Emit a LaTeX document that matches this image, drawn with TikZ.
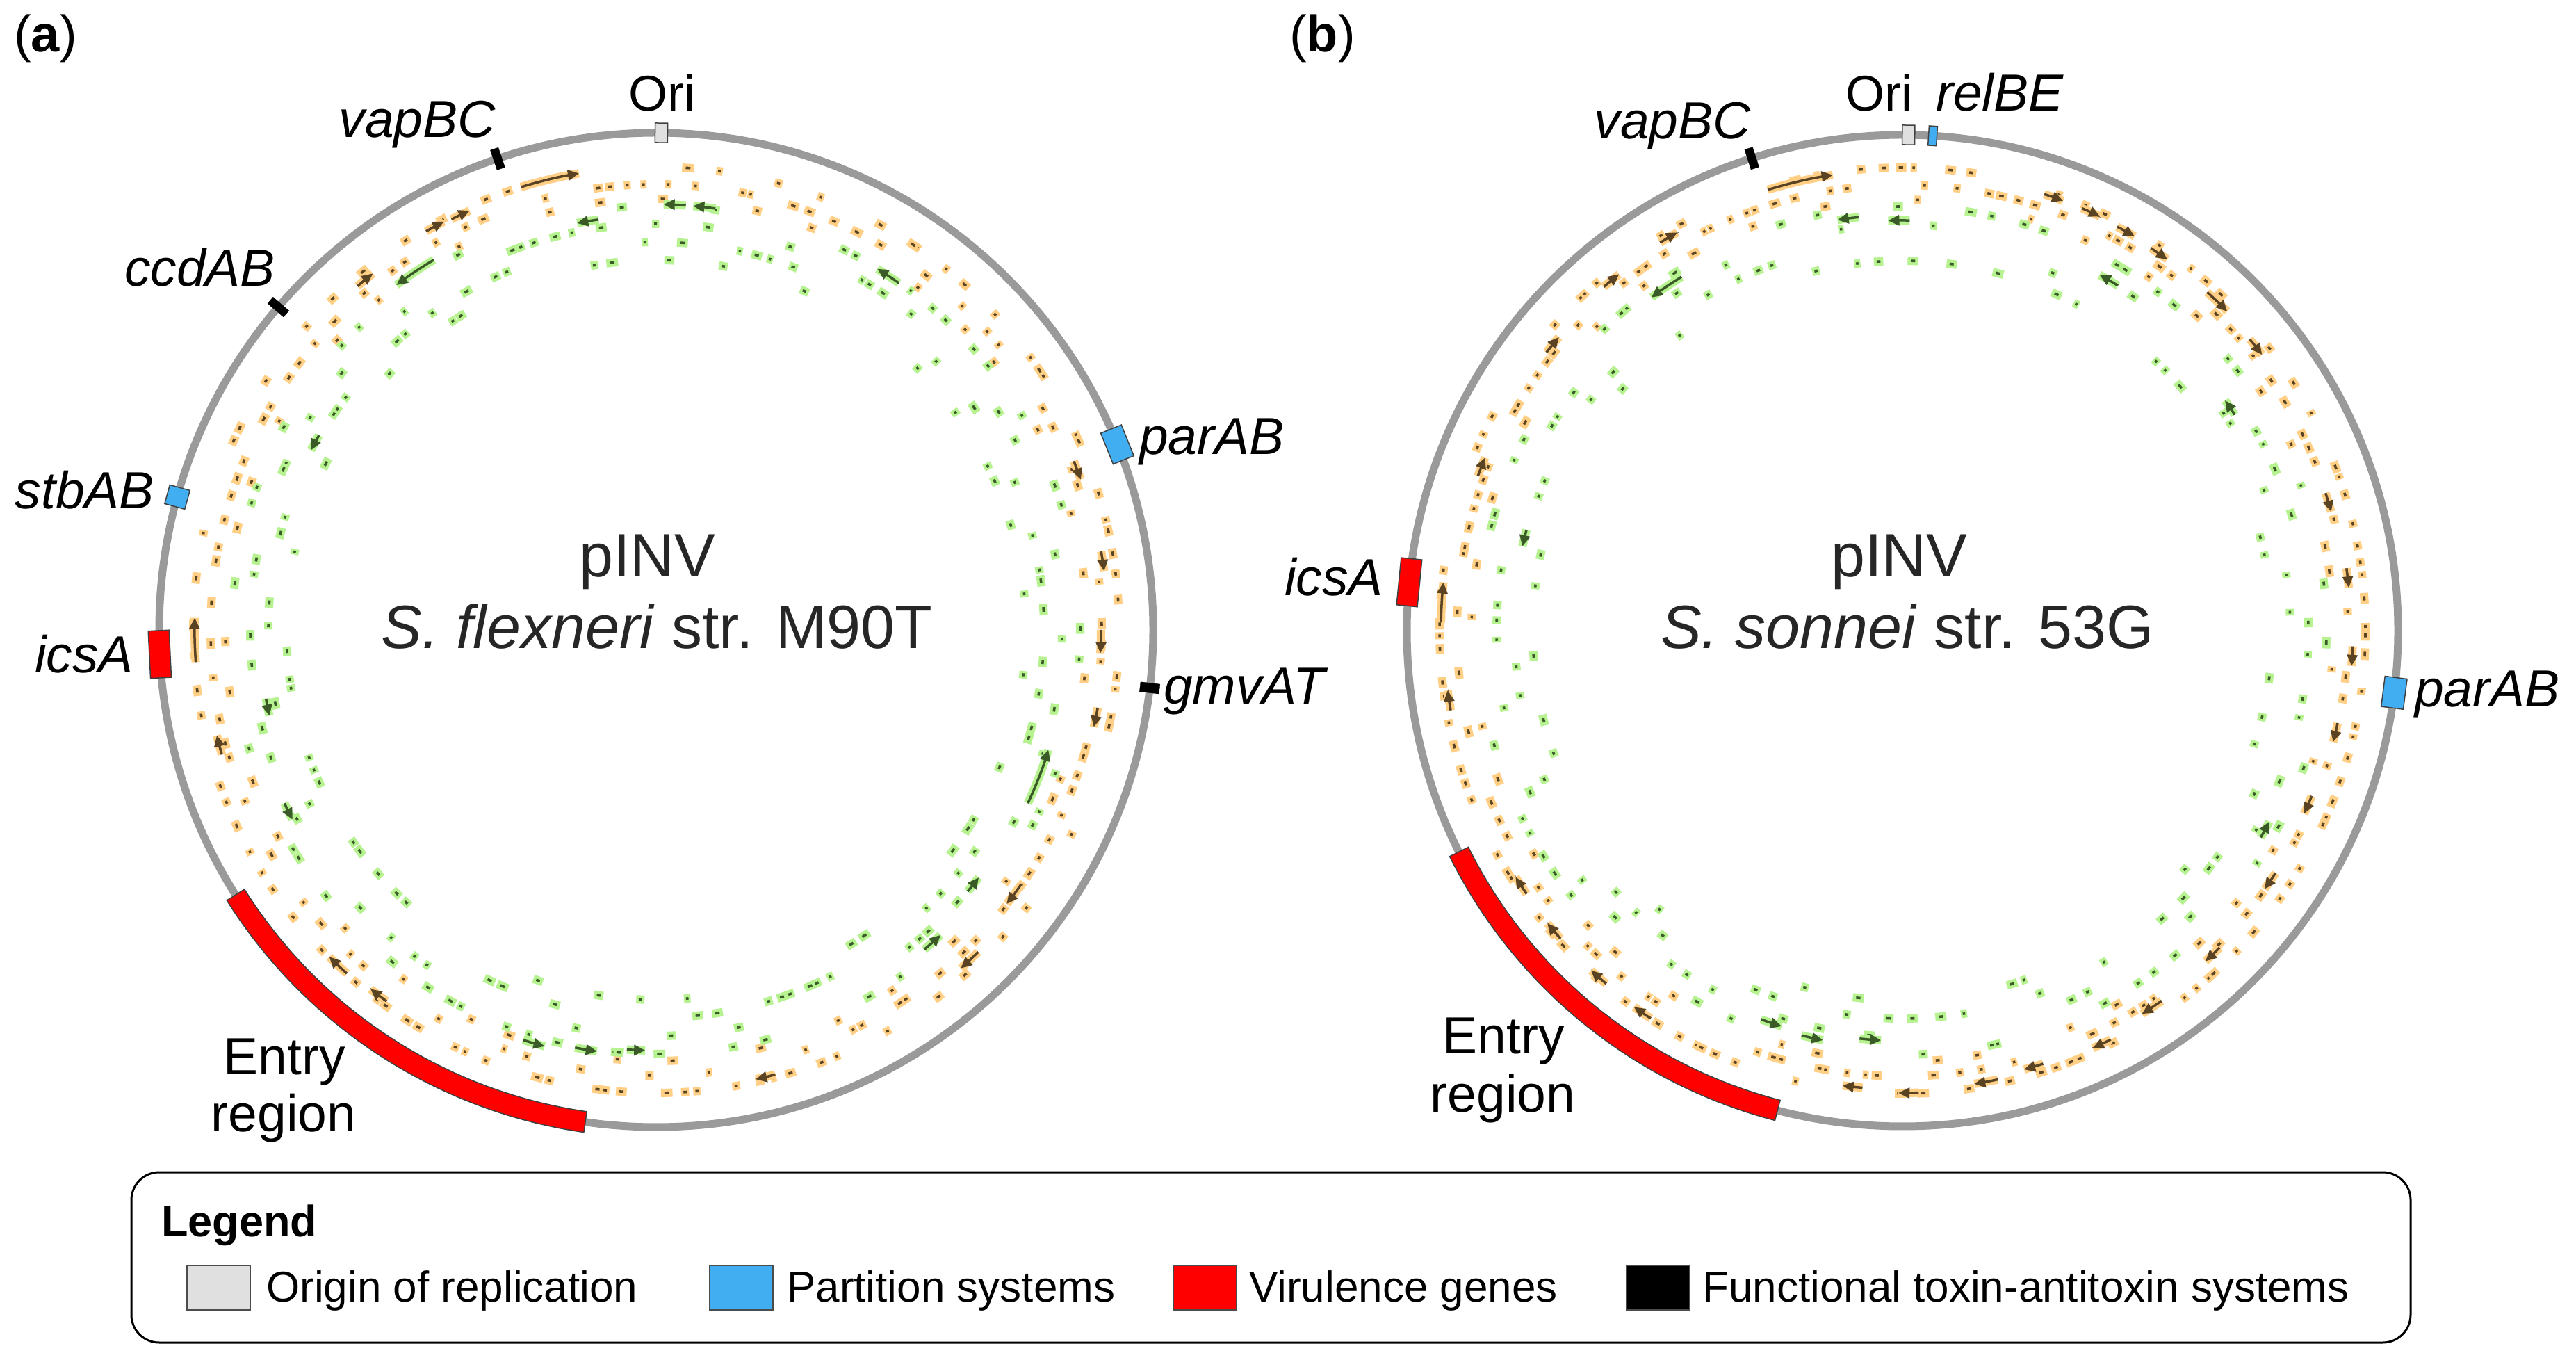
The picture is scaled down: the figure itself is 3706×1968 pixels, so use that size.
\documentclass[tikz,border=0pt]{standalone}
\usepackage{fontspec}
\setmainfont{Liberation Sans}
\usetikzlibrary{arrows.meta}
\definecolor{ring}{HTML}{9A9A9A}
\definecolor{oricol}{HTML}{E0E0E0}
\definecolor{partcol}{HTML}{42AEF2}
\definecolor{virucol}{HTML}{FF0000}
\definecolor{orgL}{HTML}{FFCF85}
\definecolor{grnL}{HTML}{B6F28F}
\definecolor{orgD}{HTML}{5A4322}
\definecolor{grnD}{HTML}{3A5A28}
\definecolor{txtd}{HTML}{262626}
\tikzset{
  featbox/.style={draw=black!75, line width=1.5pt},
  lab/.style={font=\fontsize{75}{85}\selectfont\itshape, inner sep=0pt},
  orilab/.style={font=\fontsize{72}{82}\selectfont, inner sep=0pt},
  centlab/.style={font=\fontsize{88}{100}\selectfont, text=txtd, inner sep=0pt},
  entlab/.style={font=\fontsize{75}{85}\selectfont, inner sep=0pt},
  leglab/.style={font=\fontsize{62}{72}\selectfont, inner sep=0pt, anchor=base west},
  swatch/.style={draw=black!70, line width=2pt, minimum width=91pt, minimum height=64pt, inner sep=0pt},
  panlab/.style={font=\fontsize{74}{84}\selectfont, inner sep=0pt, anchor=base west}
}
% gene mark: cx cy angle r halfwidth fill dark
\newcommand{\gmk}[7]{%
  \begin{scope}[shift={(#1,#2)},rotate=#3]
    \fill[#6] (#4-6,-#5) rectangle (#4+6,#5);
    \fill[#7] (#4-1.8,-0.4*#5) rectangle (#4+1.8,0.4*#5);
  \end{scope}}
% ring of marks: cx cy n rbase rstep nrows fill dark
\newcommand{\genring}[8]{%
  \foreach \i in {1,...,#3}{%
    \pgfmathsetmacro\ang{(\i+0.8*rnd)/#3*360}%
    \pgfmathsetmacro\rr{#4-#5*floor(#6*rnd)}%
    \pgfmathsetmacro\hw{4+4.5*rnd}%
    \gmk{#1}{#2}{\ang}{\rr}{\hw}{#7}{#8}%
  }}
% gene arrow along arc: cx cy r a1 a2 halo dark
\newcommand{\garr}[7]{%
  \begin{scope}[shift={(#1,#2)}]
    \draw[#6, line width=12pt] (#4:#3) arc[start angle=#4, end angle=#5, radius=#3];
    \draw[#7, line width=3.5pt, -{Triangle[length=16pt,width=15pt]}] (#4:#3) arc[start angle=#4, end angle=#5, radius=#3];
  \end{scope}}
% feature box: cx cy angle r halftang halfrad style
\newcommand{\feat}[7]{%
  \begin{scope}[shift={(#1,#2)},rotate=#3]
    \draw[#7] (#4-#6,-#5) rectangle (#4+#6,#5);
  \end{scope}}
% arc feature: cx cy r a1 a2 halfrad style
\newcommand{\arcfeat}[7]{%
  \begin{scope}[shift={(#1,#2)}]
    \draw[#7] (#4:#3-#6) arc[start angle=#4, end angle=#5, radius=#3-#6] -- (#5:#3+#6) arc[start angle=#5, end angle=#4, radius=#3+#6] -- cycle;
  \end{scope}}
\begin{document}
\begin{tikzpicture}[x=1pt,y=1pt]
\useasboundingbox (0,0) rectangle (3706,1968);
\fill[white] (0,0) rectangle (3706,1968);

%================ panel a ================
\coordinate (ca) at (944,1062);
\pgfmathsetseed{17}
\genring{944}{1062}{160}{666}{25}{2}{orgL}{orgD}
\genring{944}{1062}{35}{620}{0}{1}{orgL}{orgD}
\genring{944}{1062}{170}{610}{26}{4}{grnL}{grnD}
% orange arrows (clockwise)
\garr{944}{1062}{666}{107}{99.6}{orgL}{orgD}
\garr{944}{1062}{662}{120}{117.5}{orgL}{orgD}
\garr{944}{1062}{660}{116.5}{114}{orgL}{orgD}
\garr{944}{1062}{655}{131}{128.5}{orgL}{orgD}
\garr{944}{1062}{664}{184}{178.5}{orgL}{orgD}
\garr{944}{1062}{650}{196}{193.5}{orgL}{orgD}
\garr{944}{1062}{665}{228}{225}{orgL}{orgD}
\garr{944}{1062}{660}{234}{231.5}{orgL}{orgD}
\garr{944}{1062}{640}{0}{-3}{orgL}{orgD}
\garr{944}{1062}{640}{-35}{-38}{orgL}{orgD}
\garr{944}{1062}{648}{22}{19.5}{orgL}{orgD}
\garr{944}{1062}{645}{-10}{-12.5}{orgL}{orgD}
\garr{944}{1062}{655}{-45}{-48}{orgL}{orgD}
\garr{944}{1062}{650}{10}{7.5}{orgL}{orgD}
\garr{944}{1062}{662}{-75}{-77.5}{orgL}{orgD}
% green arrows (counter-clockwise)
\garr{944}{1062}{612}{82}{85}{grnL}{grnD}
\garr{944}{1062}{612}{86}{89}{grnL}{grnD}
\garr{944}{1062}{596}{98}{101}{grnL}{grnD}
\garr{944}{1062}{621}{121}{127}{grnL}{grnD}
\garr{944}{1062}{609}{55}{58.5}{grnL}{grnD}
\garr{944}{1062}{590}{-25}{-17}{grnL}{grnD}
\garr{944}{1062}{620}{252}{255}{grnL}{grnD}
\garr{944}{1062}{612}{259}{262}{grnL}{grnD}
\garr{944}{1062}{605}{266}{268.5}{grnL}{grnD}
\garr{944}{1062}{600}{-50}{-47}{grnL}{grnD}
\garr{944}{1062}{585}{-40}{-37.5}{grnL}{grnD}
\garr{944}{1062}{560}{150}{152.5}{grnL}{grnD}
\garr{944}{1062}{570}{190}{192.5}{grnL}{grnD}
\garr{944}{1062}{590}{205}{207.5}{grnL}{grnD}

\node (ringa) [draw=ring, line width=11pt, circle, minimum size=1430pt, inner sep=0pt] at (ca) {};
\feat{944}{1062}{89.4}{715}{9}{14}{featbox, fill=oricol}
\feat{944}{1062}{108.6}{715}{6}{15}{fill=black}
\feat{944}{1062}{139.5}{715}{6}{15}{fill=black}
\feat{944}{1062}{164.5}{715}{14}{15}{featbox, fill=partcol}
\feat{944}{1062}{182.8}{715}{34}{15}{featbox, fill=virucol}
\feat{944}{1062}{21.9}{715}{24}{16}{featbox, fill=partcol}
\feat{944}{1062}{-6.7}{715}{7}{14}{fill=black}
\arcfeat{944}{1062}{715}{212.2}{261.8}{15}{featbox, fill=virucol}

\node (pana) [panlab] at (20,1893) {(\textbf{a})};
\node (oria) [orilab, anchor=base] at (952,1808) {Ori};
\node (vapa) [lab, anchor=base east] at (713,1770) {vapBC};
\node (ccda) [lab, anchor=base east] at (396,1556) {ccdAB};
\node (stba) [lab, anchor=base east] at (222,1236) {stbAB};
\node (icsa) [lab, anchor=base east] at (192,1000) {icsA};
\node (para) [lab, anchor=base west] at (1639,1314) {parAB};
\node (gmva) [lab, anchor=base west] at (1674,955) {gmvAT};
\node (enta) [entlab, anchor=base] at (409,422) {Entry};
\node (rega) [entlab, anchor=base] at (408,341) {region};
\node (pinva) [centlab, anchor=base] at (931,1138) {pINV};
\node (stra) [centlab, anchor=base] at (945,1035) {\textit{S. flexneri} str. M90T};

%================ panel b ================
\coordinate (cb) at (2737,1061);
\pgfmathsetseed{4242}
\genring{2737}{1061}{180}{666}{25}{2}{orgL}{orgD}
\genring{2737}{1061}{35}{620}{0}{1}{orgL}{orgD}
\genring{2737}{1061}{140}{610}{26}{4}{grnL}{grnD}
% orange arrows
\garr{2737}{1061}{663}{107}{98.7}{orgL}{orgD}
\garr{2737}{1061}{658}{122}{119.5}{orgL}{orgD}
\garr{2737}{1061}{655}{131}{128.5}{orgL}{orgD}
\garr{2737}{1061}{650}{142}{139.5}{orgL}{orgD}
\garr{2737}{1061}{650}{160}{157.5}{orgL}{orgD}
\garr{2737}{1061}{664}{179}{174}{orgL}{orgD}
\garr{2737}{1061}{660}{190}{187.5}{orgL}{orgD}
\garr{2737}{1061}{660}{215}{212.5}{orgL}{orgD}
\garr{2737}{1061}{662}{222}{219.5}{orgL}{orgD}
\garr{2737}{1061}{663}{230}{227.5}{orgL}{orgD}
\garr{2737}{1061}{665}{237}{234.5}{orgL}{orgD}
\garr{2737}{1061}{660}{72}{69.5}{orgL}{orgD}
\garr{2737}{1061}{660}{67}{64.5}{orgL}{orgD}
\garr{2737}{1061}{658}{62}{59.5}{orgL}{orgD}
\garr{2737}{1061}{656}{57}{54.5}{orgL}{orgD}
\garr{2737}{1061}{655}{48}{44.5}{orgL}{orgD}
\garr{2737}{1061}{652}{40}{37.5}{orgL}{orgD}
\garr{2737}{1061}{640}{18}{15.5}{orgL}{orgD}
\garr{2737}{1061}{645}{8}{5.5}{orgL}{orgD}
\garr{2737}{1061}{648}{-2}{-4.5}{orgL}{orgD}
\garr{2737}{1061}{640}{-12}{-14.5}{orgL}{orgD}
\garr{2737}{1061}{635}{-22}{-24.5}{orgL}{orgD}
\garr{2737}{1061}{640}{-33}{-35.5}{orgL}{orgD}
\garr{2737}{1061}{645}{-45}{-47.5}{orgL}{orgD}
\garr{2737}{1061}{650}{-55}{-58}{orgL}{orgD}
\garr{2737}{1061}{660}{-63}{-65.5}{orgL}{orgD}
\garr{2737}{1061}{655}{-72}{-74.5}{orgL}{orgD}
\garr{2737}{1061}{660}{-78}{-81}{orgL}{orgD}
\garr{2737}{1061}{665}{-88}{-90.5}{orgL}{orgD}
\garr{2737}{1061}{660}{-95}{-97.5}{orgL}{orgD}
% green arrows
\garr{2737}{1061}{598}{96}{99}{grnL}{grnD}
\garr{2737}{1061}{590}{89}{92}{grnL}{grnD}
\garr{2737}{1061}{600}{122}{127}{grnL}{grnD}
\garr{2737}{1061}{585}{58}{61}{grnL}{grnD}
\garr{2737}{1061}{570}{33}{35.5}{grnL}{grnD}
\garr{2737}{1061}{595}{250}{253}{grnL}{grnD}
\garr{2737}{1061}{600}{256}{259}{grnL}{grnD}
\garr{2737}{1061}{590}{264}{267}{grnL}{grnD}
\garr{2737}{1061}{595}{-30}{-27.5}{grnL}{grnD}
\garr{2737}{1061}{560}{165}{167.5}{grnL}{grnD}

\node (ringb) [draw=ring, line width=11pt, circle, minimum size=1426pt, inner sep=0pt] at (cb) {};
\feat{2737}{1061}{89.3}{713}{9}{14}{featbox, fill=oricol}
\feat{2737}{1061}{86.5}{713}{6}{14}{featbox, fill=partcol}
\feat{2737}{1061}{107.7}{713}{6}{15}{fill=black}
\feat{2737}{1061}{174.4}{713}{34}{15}{featbox, fill=virucol}
\feat{2737}{1061}{-7.2}{713}{22}{16}{featbox, fill=partcol}
\arcfeat{2737}{1061}{713}{206.5}{255.4}{15}{featbox, fill=virucol}

\node (panb) [panlab] at (1855,1893) {(\textbf{b})};
\node (orib) [orilab, anchor=base] at (2703,1808) {Ori};
\node (relb) [lab, anchor=base west] at (2785,1808) {relBE};
\node (vapb) [lab, anchor=base east] at (2519,1768) {vapBC};
\node (icsb) [lab, anchor=base east] at (1990,1111) {icsA};
\node (parb) [lab, anchor=base west] at (3474,951) {parAB};
\node (entb) [entlab, anchor=base] at (2163,452) {Entry};
\node (regb) [entlab, anchor=base] at (2162,368) {region};
\node (pinvb) [centlab, anchor=base] at (2732,1138) {pINV};
\node (strb) [centlab, anchor=base] at (2744,1035) {\textit{S. sonnei} str. 53G};

%================ legend ================
\node (legbox) [draw=black, line width=3pt, rounded corners=40pt, minimum width=3279pt, minimum height=245pt, inner sep=0pt] at (1828.5,159.5) {};
\node (legtitle) [anchor=base west, inner sep=0pt, font=\fontsize{63}{73}\selectfont\bfseries] at (232,190) {Legend};
\node (sw1) [swatch, fill=oricol] at (314.5,116) {};
\node (lt1) [leglab] at (383,96) {Origin of replication};
\node (sw2) [swatch, fill=partcol] at (1066,116) {};
\node (lt2) [leglab] at (1132,96) {Partition systems};
\node (sw3) [swatch, fill=virucol] at (1733,116) {};
\node (lt3) [leglab] at (1797,96) {Virulence genes};
\node (sw4) [swatch, fill=black] at (2385,116) {};
\node (lt4) [leglab] at (2449,96) {Functional toxin-antitoxin systems};
\end{tikzpicture}
\end{document}
